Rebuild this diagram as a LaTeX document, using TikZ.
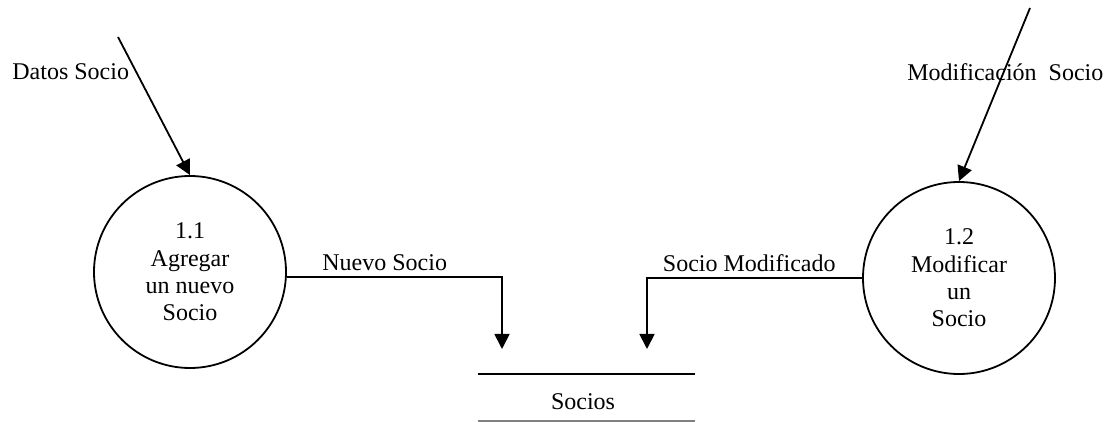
\documentclass[tikz,border=0pt]{standalone}
\usepackage{fontspec}
\setmainfont{Liberation Serif}
\usetikzlibrary{arrows.meta}
\begin{document}
\begin{tikzpicture}[x=0.5pt,y=-0.5pt]
\tikzset{
  proc/.style={circle,draw,line width=0.9pt,minimum size=96pt,inner sep=0pt,align=center,font=\fontsize{12}{13.7}\selectfont},
  lbl/.style={inner sep=0pt,font=\fontsize{12}{14}\selectfont},
  flow/.style={line width=0.9pt,-{Triangle[length=7.5pt,width=7.5pt]}},
  storeline/.style={line width=0.9pt}
}
\useasboundingbox (0,0) rectangle (1109,422);
% processes
\node[proc] (c1) at (190,272) {1.1\\Agregar\\un nuevo\\Socio};
\node[proc] (c2) at (959,278) {1.2\\Modificar\\un\\Socio};
% data store
\node[lbl] (store) at (583,402) {Socios};
\coordinate (stl) at (478,374);
\coordinate (str) at (695,374);
\coordinate (sbl) at (478,421);
\coordinate (sbr) at (695,421);
\draw[storeline] (stl) -- (str);
\draw[storeline,gray] (sbl) -- (sbr);
% external inputs
\coordinate (d1) at (118,37);
\coordinate (d2) at (1030,8);
\draw[flow] (d1) -- (c1.north);
\draw[flow] (d2) -- (c2.north);
\node[lbl,anchor=west] (ld1) at (12,72) {Datos Socio};
\node[lbl,anchor=west] (ld2) at (907,72) {Modificación\ \ Socio};
% flows to store
\coordinate (s1) at (502,349);
\coordinate (s2) at (647,349);
\draw[flow] (c1.-3.6) -| (s1);
\draw[flow] (c2.west) -| (s2);
\node[lbl,anchor=west] (l1) at (322,263) {Nuevo Socio};
\node[lbl,anchor=east] (l2) at (836,263) {Socio Modificado};
\end{tikzpicture}
\end{document}
